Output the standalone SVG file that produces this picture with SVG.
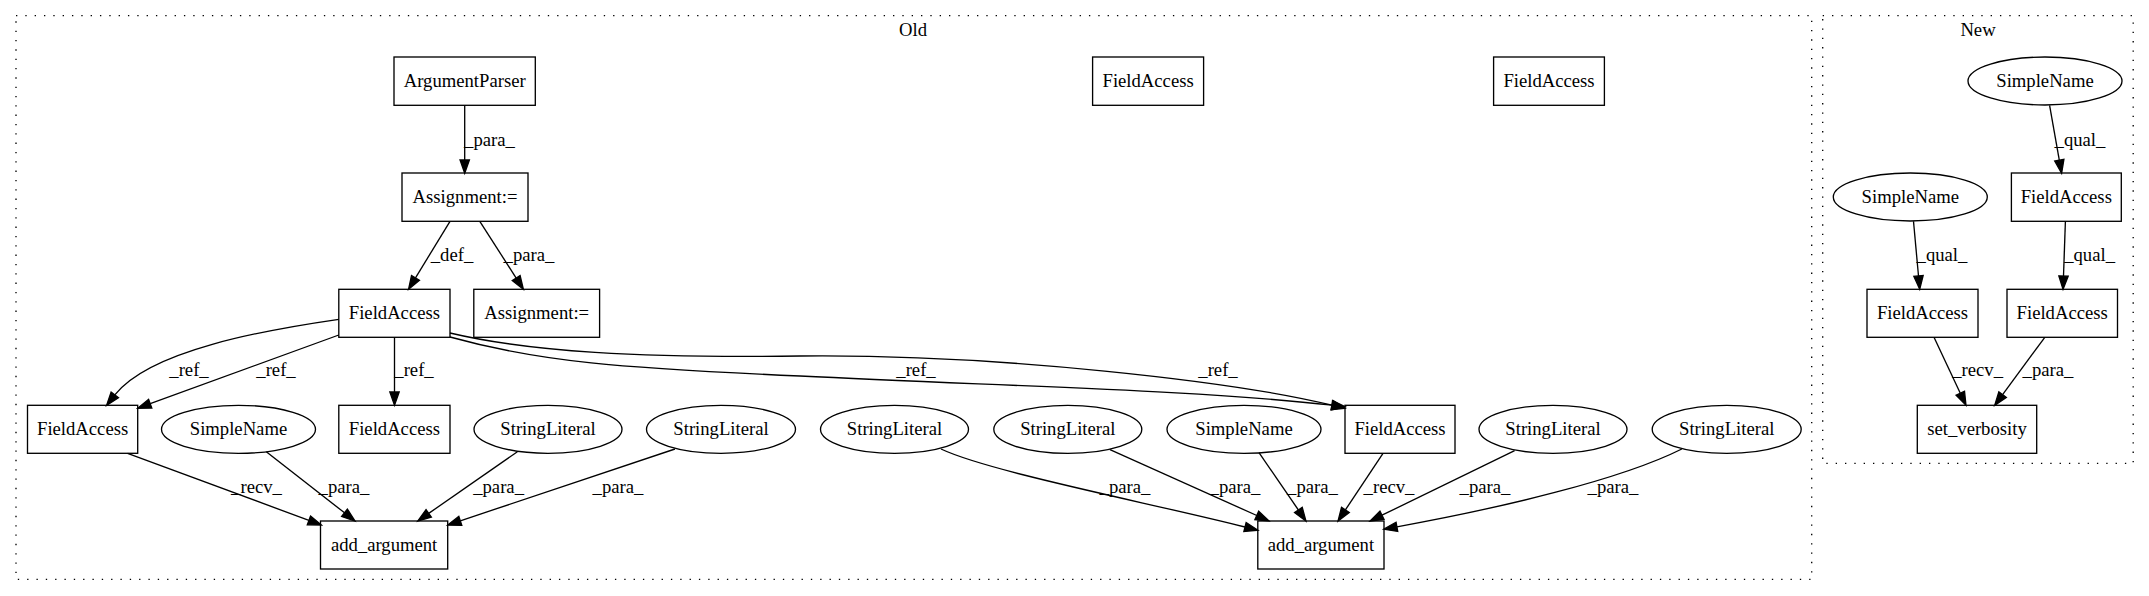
<svg xmlns="http://www.w3.org/2000/svg" width="2149" height="596" viewBox="0 0 2149 596">
<style>
text{font-family:"Liberation Serif","Times New Roman",serif;font-size:18.67px;fill:#000;text-anchor:middle}
.n{fill:none;stroke:#000;stroke-width:1.33}
.c{fill:none;stroke:#000;stroke-width:1.33;stroke-dasharray:1.33,8}
.e{fill:none;stroke:#000;stroke-width:1.33;marker-end:url(#ah)}
</style>
<defs>
<marker id="ah" markerUnits="userSpaceOnUse" markerWidth="16" markerHeight="12" refX="0" refY="4.67" orient="auto" viewBox="0 0 16 9.33" overflow="visible">
<path d="M0,0 L13.33,4.67 L0,9.33 Z" fill="#000" stroke="#000" stroke-width="1.33"/>
</marker>
</defs>
<rect x="0" y="0" width="2149" height="596" fill="#fff"/>
<g id="cluster_old">
<rect class="c" x="16" y="15.7" width="1795.7" height="563.6"/>
<text x="913" y="36">Old</text>
</g>
<g id="cluster_new">
<rect class="c" x="1822.7" y="15.7" width="310.5" height="447.6"/>
<text x="1978" y="36">New</text>
</g>
<g id="connectors">
<path class="e" d="M464.7,105.3 L464.7,160"/>
<text x="489.5" y="145.5">_para_</text>
<path class="e" d="M450,221.3 L415.5,277.9"/>
<text x="452" y="260.5">_def_</text>
<path class="e" d="M479.8,221.3 L516.2,278.1"/>
<text x="529" y="260.5">_para_</text>
<path class="e" d="M338.8,319.3 C265,330 150,350 114.8,394.9"/>
<text x="189" y="376">_ref_</text>
<path class="e" d="M338.8,335 L150.2,403.7"/>
<text x="276" y="376">_ref_</text>
<path class="e" d="M394.5,337.3 L394.5,392"/>
<text x="414" y="376">_ref_</text>
<path class="e" d="M450,333 C530,352 640,358 800,356 C1000,354 1235,381.7 1332,405.2"/>
<text x="916" y="376">_ref_</text>
<path class="e" d="M450,337 C540,362 620,368 800,376 C1000,386 1200,390 1332,405.2"/>
<text x="1218" y="376">_ref_</text>
<path class="e" d="M127.6,453.3 L308.9,520.4"/>
<text x="256.5" y="493">_recv_</text>
<path class="e" d="M266.3,451.7 L344.5,512.8"/>
<text x="344" y="493">_para_</text>
<path class="e" d="M517.4,451.7 L428.7,513.4"/>
<text x="498.6" y="493">_para_</text>
<path class="e" d="M675,449 L460.3,520.8"/>
<text x="618" y="493">_para_</text>
<path class="e" d="M941,449 C990,472 1150,503 1245,527"/>
<text x="1125" y="493">_para_</text>
<path class="e" d="M1110,449.7 L1256.8,515.5"/>
<text x="1235" y="493">_para_</text>
<path class="e" d="M1259,452.7 L1298.4,510"/>
<text x="1312.5" y="493">_para_</text>
<path class="e" d="M1383,453.3 L1345.4,509.9"/>
<text x="1389" y="493">_recv_</text>
<path class="e" d="M1514.6,450.7 L1382,515.2"/>
<text x="1485" y="493">_para_</text>
<path class="e" d="M1681.8,449 C1620,480 1500,508 1396.9,526.8"/>
<text x="1613" y="493">_para_</text>
<path class="e" d="M2049.6,105.3 L2059.3,160.2"/>
<text x="2080" y="145.5">_qual_</text>
<path class="e" d="M1913.5,221.3 L1918.5,276"/>
<text x="1942" y="260.5">_qual_</text>
<path class="e" d="M2065.4,221.3 L2063.5,276"/>
<text x="2089.6" y="260.5">_qual_</text>
<path class="e" d="M1934,337.3 L1960.3,393.2"/>
<text x="1977.6" y="376">_recv_</text>
<path class="e" d="M2044.8,337.3 L2002.6,394.6"/>
<text x="2048" y="376">_para_</text>
</g>
<g id="n_argparser"><rect class="n" x="394" y="57" width="141.3" height="48.3"/><text x="464.7" y="86.5">ArgumentParser</text></g>
<g id="n_fa_top1"><rect class="n" x="1092.6" y="57" width="111" height="48.3"/><text x="1148.1" y="86.5">FieldAccess</text></g>
<g id="n_fa_top2"><rect class="n" x="1493.6" y="57" width="110.8" height="48.3"/><text x="1549" y="86.5">FieldAccess</text></g>
<g id="n_assign1"><rect class="n" x="402" y="173" width="126" height="48.3"/><text x="465" y="202.5">Assignment:=</text></g>
<g id="n_fa_central"><rect class="n" x="338.8" y="289.3" width="111.2" height="48"/><text x="394.4" y="318.8">FieldAccess</text></g>
<g id="n_assign2"><rect class="n" x="473.8" y="289.3" width="125.8" height="48"/><text x="536.7" y="318.8">Assignment:=</text></g>
<g id="n_fa_left"><rect class="n" x="27.5" y="405.3" width="110.2" height="48"/><text x="82.6" y="434.8">FieldAccess</text></g>
<g id="n_sn1"><ellipse class="n" cx="238.5" cy="429.3" rx="77" ry="24"/><text x="238.5" y="434.8">SimpleName</text></g>
<g id="n_fa_mid"><rect class="n" x="338.8" y="405.3" width="111.2" height="48"/><text x="394.4" y="434.8">FieldAccess</text></g>
<g id="n_sl1"><ellipse class="n" cx="548" cy="429.3" rx="74" ry="24"/><text x="548" y="434.8">StringLiteral</text></g>
<g id="n_sl2"><ellipse class="n" cx="721" cy="429.3" rx="74.5" ry="24"/><text x="721" y="434.8">StringLiteral</text></g>
<g id="n_sl3"><ellipse class="n" cx="894.5" cy="429.3" rx="74" ry="24"/><text x="894.5" y="434.8">StringLiteral</text></g>
<g id="n_sl4"><ellipse class="n" cx="1067.8" cy="429.3" rx="74" ry="24"/><text x="1067.8" y="434.8">StringLiteral</text></g>
<g id="n_sn2"><ellipse class="n" cx="1244" cy="429.3" rx="77" ry="24"/><text x="1244" y="434.8">SimpleName</text></g>
<g id="n_fa_right"><rect class="n" x="1345" y="405.3" width="110" height="48"/><text x="1400" y="434.8">FieldAccess</text></g>
<g id="n_sl5"><ellipse class="n" cx="1553" cy="429.3" rx="74" ry="24"/><text x="1553" y="434.8">StringLiteral</text></g>
<g id="n_sl6"><ellipse class="n" cx="1726.7" cy="429.3" rx="74.5" ry="24"/><text x="1726.7" y="434.8">StringLiteral</text></g>
<g id="n_addarg1"><rect class="n" x="320.5" y="521" width="127.2" height="48"/><text x="384.1" y="550.5">add_argument</text></g>
<g id="n_addarg2"><rect class="n" x="1257.8" y="521" width="126.2" height="48"/><text x="1320.9" y="550.5">add_argument</text></g>
<g id="n_new_sn1"><ellipse class="n" cx="2045" cy="81" rx="77" ry="24"/><text x="2045" y="86.5">SimpleName</text></g>
<g id="n_new_sn2"><ellipse class="n" cx="1910.3" cy="197" rx="77" ry="24"/><text x="1910.3" y="202.5">SimpleName</text></g>
<g id="n_new_fa1"><rect class="n" x="2011.4" y="173" width="109.9" height="48.3"/><text x="2066.3" y="202.5">FieldAccess</text></g>
<g id="n_new_fa2"><rect class="n" x="1867" y="289.3" width="111" height="48"/><text x="1922.5" y="318.8">FieldAccess</text></g>
<g id="n_new_fa3"><rect class="n" x="2007" y="289.3" width="110.5" height="48"/><text x="2062.2" y="318.8">FieldAccess</text></g>
<g id="n_setverb"><rect class="n" x="1917.3" y="405.3" width="119.4" height="48"/><text x="1977" y="434.8">set_verbosity</text></g>
</svg>
